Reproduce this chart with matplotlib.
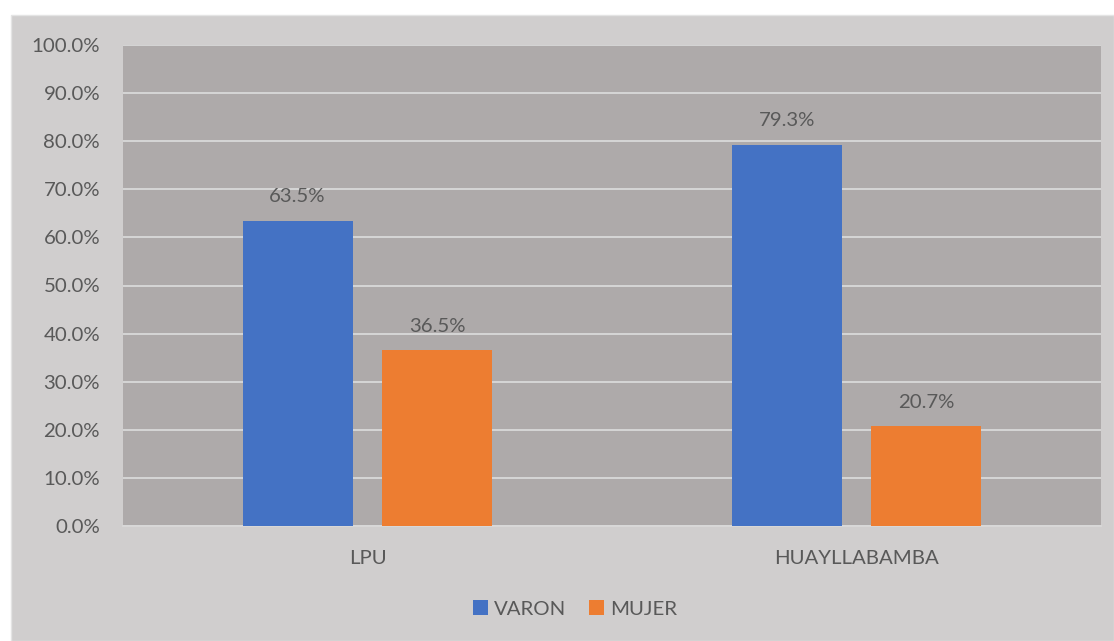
import matplotlib
matplotlib.use("Agg")
import matplotlib.pyplot as plt
from matplotlib.patches import Rectangle
from matplotlib.ticker import FuncFormatter
import numpy as np

categories = ["LPU", "HUAYLLABAMBA"]
varon = [63.5, 79.3]
mujer = [36.5, 20.7]
series_names = ["VARON", "MUJER"]

plt.rcParams["font.family"] = ["Lato", "DejaVu Sans"]
TXT = "#595959"
FS = 14.7

fig = plt.figure(figsize=(11.14, 6.41), dpi=100, facecolor="white")
# light chart area (cropped at right/bottom like the source)
fig.patches.append(Rectangle((11 / 1114, 0), 1 - 11 / 1114, 1 - 15 / 641,
                             transform=fig.transFigure, facecolor="#d0cece",
                             edgecolor="#e4e4e4", lw=1.0, zorder=-10))

ax = fig.add_axes([123 / 1114, 1 - 526 / 641, 978 / 1114, 481 / 641])
ax.set_zorder(1)
ax.set_facecolor("#aeaaaa")

x = np.arange(len(categories))
w = 0.225
off = 0.143
b1 = ax.bar(x - off, varon, w, color="#4472c4", label=series_names[0], zorder=3)
b2 = ax.bar(x + off, mujer, w, color="#ed7d31", label=series_names[1], zorder=3)

for bars in (b1, b2):
    for b in bars:
        ax.annotate(f"{b.get_height():.1f}%", (b.get_x() + b.get_width() / 2, b.get_height()),
                    xytext=(0, 11), textcoords="offset points", ha="center", va="bottom",
                    fontsize=FS, color=TXT)

ax.set_xlim(-0.5, 1.5)
ax.set_ylim(0, 100)
ax.set_yticks(np.arange(0, 101, 10))
ax.yaxis.set_major_formatter(FuncFormatter(lambda v, p: f"{v:.1f}%"))
ax.set_xticks(x)
ax.set_xticklabels(categories)
ax.tick_params(axis="both", length=0, labelsize=FS, labelcolor=TXT)
ax.tick_params(axis="x", pad=17)
ax.tick_params(axis="y", pad=16.5)
ax.grid(axis="y", color="#d9d9d9", lw=1.3, zorder=1)
ax.set_axisbelow(True)
for s in ("top", "right", "left"):
    ax.spines[s].set_visible(False)
ax.spines["bottom"].set_color("#d9d9d9")
ax.spines["bottom"].set_linewidth(1.3)

fig.legend(handles=[b1, b2], loc="center", bbox_to_anchor=(575 / 1114, 1 - 609 / 641),
           ncol=2, frameon=False, fontsize=FS, labelcolor=TXT,
           handlelength=0.75, handleheight=0.75, handletextpad=0.3, columnspacing=1.1)

fig.savefig("out.png", dpi=100, facecolor="white")
